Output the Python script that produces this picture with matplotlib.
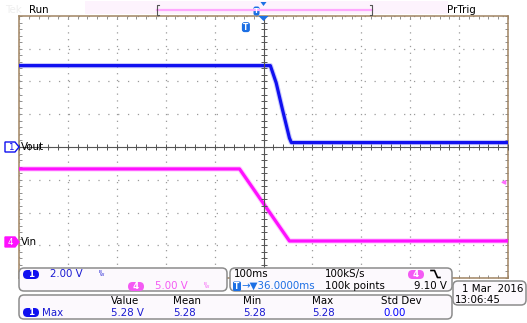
import matplotlib
matplotlib.use("Agg")
import matplotlib.pyplot as plt
from matplotlib.patches import FancyBboxPatch, Polygon, Rectangle
from matplotlib.ticker import FixedLocator
import numpy as np

plt.rcParams['font.family'] = ['DejaVu Sans']
plt.rcParams['lines.scale_dashes'] = False

# ---------------- data ----------------
ch_names = ["Vout", "Vin"]
ch_numbers = ["1", "4"]
ch_scale_v = [2.00, 5.00]          # V/div
ch_offset_div = [0.0, -2.9]        # ground marker position (div)
time_per_div_ms = 100
h_delay_ms = 36.0
sample_rate = "100kS/s"
record_len = "100k points"
trig_level_v = 9.10
date_str = "1 Mar  2016"
time_str = "13:06:45"

vout_t_ms = [-464, 50, 62, 75, 89, 93, 536]
vout_v = [4.97, 4.97, 3.91, 2.26, 0.55, 0.27, 0.27]
vin_t_ms = [-464, -13, 89, 536]
vin_v = [11.15, 11.15, 0.15, 0.15]

meas_headers = ["Value", "Mean", "Min", "Max", "Std Dev"]
meas_values = ["5.28 V", "5.28", "5.28", "5.28", "0.00"]
meas_name = "Max"

# ---------------- style ----------------
BLUE = "#1010f0"
MAG = "#ff10ff"
TXT_BLUE = "#1a1ad2"
TXT_MAG = "#f45af4"
LBLUE = "#1c6fe4"
BORDER = "#a08462"
FS = 7.4

W, H = 527, 323
fig = plt.figure(figsize=(W / 100, H / 100), dpi=100)
ax = fig.add_axes([19 / W, 45 / H, 489 / W, 262 / H])

x0 = h_delay_ms - 5 * time_per_div_ms
x1 = h_delay_ms + 5 * time_per_div_ms
ax.set_xlim(x0, x1)
ax.set_ylim(-4, 4)
ax.xaxis.set_major_locator(FixedLocator(np.arange(x0, x1 + 1, time_per_div_ms)))
ax.xaxis.set_minor_locator(FixedLocator(np.arange(x0, x1 + 1, time_per_div_ms / 5)))
ax.yaxis.set_major_locator(FixedLocator(np.arange(-4, 4.01, 1)))
ax.yaxis.set_minor_locator(FixedLocator(np.arange(-4, 4.01, 0.2)))
ax.tick_params(which='both', direction='in', length=2.2, width=0.7, color='#909090',
               top=True, right=True, labelbottom=False, labelleft=False)
ax.xaxis.grid(True, which='major', color='#9a9a9a', lw=0.9, linestyle=(0, (0.9, 4.0)))
ax.yaxis.grid(True, which='major', color='#9a9a9a', lw=0.9, linestyle=(0, (0.9, 6.2)))
for s in ax.spines.values():
    s.set_color(BORDER)
    s.set_linewidth(1.1)

# centre crosshair with ticks
ax.axvline(h_delay_ms, color='#555555', lw=0.8, zorder=3.5)
ax.axhline(0, color='#555555', lw=0.8, zorder=3.5)
mx = np.arange(x0, x1 + 1, time_per_div_ms / 5)
my = np.arange(-4, 4.01, 0.2)
ax.plot(mx, np.zeros_like(mx), '|', ms=4, mew=0.7, color='#555555', zorder=3.5)
ax.plot(np.full_like(my, h_delay_ms), my, '_', ms=4, mew=0.7, color='#555555', zorder=3.5)

# traces
for t, v, sc, off, col in [(vout_t_ms, vout_v, ch_scale_v[0], ch_offset_div[0], BLUE),
                           (vin_t_ms, vin_v, ch_scale_v[1], ch_offset_div[1], MAG)]:
    y = np.array(v) / sc + off
    ax.plot(t, y, color=col, lw=3.8, alpha=0.22, solid_joinstyle='round', zorder=3)
    ax.plot(t, y, color=col, lw=2.3, solid_joinstyle='round', zorder=3.1)


def to_px(x, y):
    X, Y = ax.transData.transform((x, y))
    return X, H - Y


# ---------------- overlay ----------------
ov = fig.add_axes([0, 0, 1, 1], zorder=5)
ov.set_xlim(0, W)
ov.set_ylim(H, 0)
ov.axis('off')
ov.patch.set_alpha(0)


def badge(x, y, w, h, fc, txt, tc='white'):
    ov.add_patch(FancyBboxPatch((x, y), w, h, boxstyle=f"round,pad=0,rounding_size={h/2}",
                                fc=fc, ec='none'))
    ov.text(x + w / 2, y + h / 2 + 0.3, txt, color=tc, ha='center', va='center',
            fontsize=6.3, fontweight='bold')


def box(x, y, w, h):
    ov.add_patch(FancyBboxPatch((x, y), w, h, boxstyle="round,pad=0,rounding_size=5",
                                fc='#fcf9fd', ec='#8c8c8c', lw=1.1))


def txt(x, y, s, c='black', ha='left', fs=FS):
    ov.text(x, y, s, color=c, ha=ha, va='center', fontsize=fs)


# top bar
ov.add_patch(Rectangle((85, 1), 363, 13, fc='#fdf3fd', ec='none'))
ov.plot([157, 372], [10, 10], color='#ffa8ff', lw=1.6)
for bx, d in [(157, 1), (372, -1)]:
    ov.plot([bx + 2 * d, bx, bx, bx + 2 * d], [5, 5, 14.5, 14.5], color='#555555', lw=0.8)
txt(5, 10, "Tek", c='#efefef')
txt(29, 10, "Run")
txt(447, 10, "PrTrig")

# trigger position markers
tx, _ = to_px(0, 0)
cx, _ = to_px(h_delay_ms, 0)
ov.add_patch(FancyBboxPatch((cx - 10, 6.5), 6, 9, boxstyle="round,pad=0,rounding_size=2",
                            fc=LBLUE, ec='none'))
ov.text(cx - 7, 11.3, "T", color='white', ha='center', va='center', fontsize=5, fontweight='bold')
ov.add_patch(Polygon([(cx - 3, 2), (cx + 3, 2), (cx, 6)], closed=True, fc=LBLUE, ec='none'))
ov.add_patch(Polygon([(cx - 5, 16), (cx + 5, 16), (cx, 21)], closed=True, fc=LBLUE, ec='none'))
_, ty = to_px(0, 3.66)
ov.add_patch(FancyBboxPatch((tx - 4, ty - 5), 8, 10, boxstyle="round,pad=0,rounding_size=2.5",
                            fc=LBLUE, ec='none'))
ov.text(tx, ty + 0.5, "T", color='white', ha='center', va='center', fontsize=5.5, fontweight='bold')

# channel ground markers
for num, name, off, filled, col in [(ch_numbers[0], ch_names[0], ch_offset_div[0], False, BLUE),
                                    (ch_numbers[1], ch_names[1], ch_offset_div[1], True, MAG)]:
    _, gy = to_px(x0, off)
    pts = [(5, gy - 5), (15, gy - 5), (19, gy), (15, gy + 5), (5, gy + 5)]
    ov.add_patch(Polygon(pts, closed=True, fc=col if filled else 'white', ec=col, lw=1.0))
    ov.text(10.5, gy + 0.5, num, color='white' if filled else col, ha='center', va='center',
            fontsize=6.3)
    txt(21, gy, name)

# trigger level arrow
_, ly = to_px(x1, trig_level_v / ch_scale_v[1] + ch_offset_div[1])
ov.annotate('', xy=(498, ly), xytext=(508, ly),
            arrowprops=dict(arrowstyle='-|>', color='#ff6cff', lw=1.0, mutation_scale=6))

# bottom boxes
box(19, 268, 208, 23)
box(230, 268, 222, 23)
box(19, 295, 433, 24)
box(453, 281, 73, 24)

# box 1 : vertical scales
badge(23, 270, 16, 9, BLUE, ch_numbers[0])
txt(50, 274, f"{ch_scale_v[0]:.2f} V", c=TXT_BLUE)
ov.text(100, 272, "B", color=TXT_BLUE, fontsize=3.2, ha='center', va='center')
ov.text(102.5, 275, "W", color=TXT_BLUE, fontsize=3.2, ha='center', va='center')
badge(128, 282, 16, 9, TXT_MAG, ch_numbers[1])
txt(155, 286, f"{ch_scale_v[1]:.2f} V", c=TXT_MAG)
ov.text(205, 284, "B", color=TXT_MAG, fontsize=3.2, ha='center', va='center')
ov.text(207.5, 287, "W", color=TXT_MAG, fontsize=3.2, ha='center', va='center')

# box 2 : horizontal / trigger
txt(234, 274, f"{time_per_div_ms}ms")
txt(325, 274, sample_rate)
badge(408, 270, 16, 9, TXT_MAG, ch_numbers[1])
ov.plot([431, 434.5, 437.5, 440], [270.5, 270.5, 277.5, 277.5], color='black', lw=1.2)
ov.add_patch(FancyBboxPatch((233, 281.5), 8, 9.5, boxstyle="round,pad=0,rounding_size=1.5",
                            fc=LBLUE, ec='none'))
ov.text(237, 286.5, "T", color='white', ha='center', va='center', fontsize=5.5, fontweight='bold')
txt(241.5, 286, f"\u2192\u25bc{h_delay_ms:.4f}ms", c=LBLUE)
txt(325, 286, record_len)
txt(447, 286, f"{trig_level_v:.2f} V", ha='right')

# measurement box
hx = [111, 173, 243, 312, 381]
for x, h_, v in zip(hx, meas_headers, meas_values):
    txt(x, 301, h_)
    txt(x + (2 if h_ == "Std Dev" else 0), 312.5, v, c=TXT_BLUE if h_ != "Std Dev" else "#0000ff")
badge(23, 308, 16, 9, BLUE, ch_numbers[0])
txt(42, 312.5, meas_name, c=TXT_BLUE)

# date box
txt(462, 289, date_str)
txt(455, 300, time_str)

fig.savefig("out.png", dpi=100)
